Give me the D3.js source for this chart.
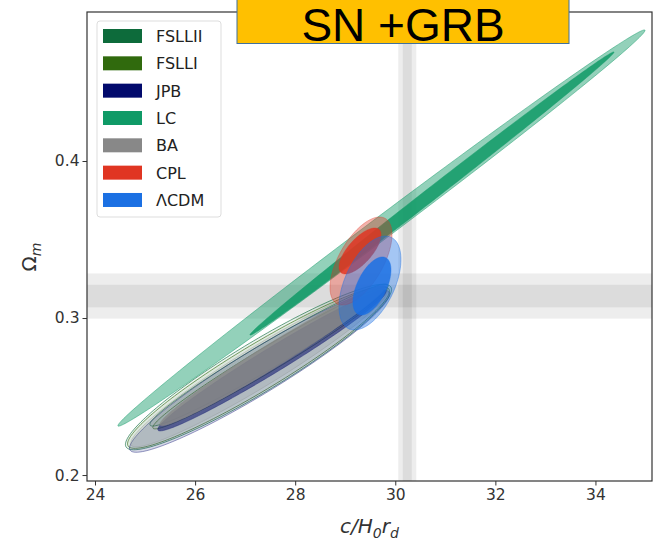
<!DOCTYPE html>
<html><head><meta charset="utf-8">
<script src="https://cdn.jsdelivr.net/npm/d3@7"></script>
<style>body{margin:0;background:#fff;} svg{display:block;}</style>
</head><body>
<svg id="chart" width="656" height="542"></svg>
<script>
// ---- data ----
const models = ["FSLLII", "FSLLI", "JPB", "LC", "BA", "CPL", "ΛCDM"];
// 95% contours: centre, half-extent in x and y, correlation
const cx95 = [27.267, 27.267, 27.287, 29.724, 27.287, 29.315, 29.494];
const cy95 = [0.2688, 0.2685, 0.2662, 0.3573, 0.2691, 0.3363, 0.3223];
const hx95 = [2.659, 2.617, 2.597, 5.267, 2.575, 0.619, 0.619];
const hy95 = [0.0527, 0.0515, 0.0517, 0.1262, 0.0511, 0.0280, 0.0299];
const rho95 = [0.9366, 0.9443, 0.9488, 0.99761, 0.9571, 0.60, 0.50];
// 68% contours
const cx68 = [27.477, 27.497, 27.536, 30.733, 27.546, 29.295, 29.534];
const cy68 = [0.2764, 0.2745, 0.2729, 0.3793, 0.2761, 0.3427, 0.3204];
const hx68 = [2.380, 2.342, 2.282, 3.638, 2.252, 0.420, 0.380];
const hy68 = [0.0452, 0.0451, 0.0448, 0.0902, 0.0447, 0.01465, 0.0185];
const rho68 = [0.9772, 0.9800, 0.9790, 0.99845, 0.9802, 0.70, 0.55];
// reference bands (mean, 1 sigma)
const bandXMean = 30.24, bandXSigma = 0.09;
const bandYMean = 0.314, bandYSigma = 0.0072;
const xTicks = [24, 26, 28, 30, 32, 34];
const yTicks = [0.2, 0.3, 0.4];
const xDomain = [23.84, 35.13];
const yDomain = [0.1962, 0.4949];
const title = "SN +GRB";

// ---- styles ----
const colors = ["#0d6b3b", "#306a0d", "#020a6c", "#0f9a66", "#888888", "#e03522", "#1b70e3"];
const op95 = [0.08, 0.08, 0.16, 0.45, 0.15, 0.38, 0.4];
const op68 = [0.08, 0.08, 0.6, 0.85, 0.85, 0.85, 0.85];
const strokeOp = [0.7, 0.7, 0.45, 0.5, 0.35, 0.4, 0.45];
const m = {left: 87, top: 12, right: 652, bottom: 481};

const svg = d3.select("#chart");
const x = d3.scaleLinear().domain(xDomain).range([m.left, m.right]);
const y = d3.scaleLinear().domain(yDomain).range([m.bottom, m.top]);

svg.append("defs").append("clipPath").attr("id", "clip")
  .append("rect").attr("x", m.left).attr("y", m.top)
  .attr("width", m.right - m.left).attr("height", m.bottom - m.top);

const plot = svg.append("g").attr("clip-path", "url(#clip)");

// bands
[2, 1].forEach(k => {
  plot.append("rect")
    .attr("x", x(bandXMean - k * bandXSigma)).attr("y", m.top)
    .attr("width", x(bandXMean + k * bandXSigma) - x(bandXMean - k * bandXSigma))
    .attr("height", m.bottom - m.top)
    .attr("fill", "#000").attr("fill-opacity", 0.07);
  plot.append("rect")
    .attr("x", m.left).attr("y", y(bandYMean + k * bandYSigma))
    .attr("width", m.right - m.left)
    .attr("height", y(bandYMean - k * bandYSigma) - y(bandYMean + k * bandYSigma))
    .attr("fill", "#000").attr("fill-opacity", 0.07);
});

function ellipse(cx, cy, hx, hy, rho) {
  const s = Math.sqrt(1 - rho * rho);
  return d3.range(0, 180).map(i => {
    const t = i / 180 * 2 * Math.PI;
    return [x(cx + hx * Math.cos(t)), y(cy + hy * (rho * Math.cos(t) + s * Math.sin(t)))];
  });
}
const line = d3.line().curve(d3.curveLinearClosed);

models.forEach((name, i) => {
  const g = plot.append("g");
  g.append("path")
    .attr("d", line(ellipse(cx95[i], cy95[i], hx95[i], hy95[i], rho95[i])))
    .attr("fill", colors[i]).attr("fill-opacity", op95[i])
    .attr("stroke", colors[i]).attr("stroke-opacity", strokeOp[i]).attr("stroke-width", 0.9);
  g.append("path")
    .attr("d", line(ellipse(cx68[i], cy68[i], hx68[i], hy68[i], rho68[i])))
    .attr("fill", colors[i]).attr("fill-opacity", op68[i])
    .attr("stroke", colors[i]).attr("stroke-opacity", strokeOp[i]).attr("stroke-width", 0.9);
});

// axes
const xAxis = d3.axisBottom(x).tickValues(xTicks).tickSize(4.5).tickPadding(3)
  .tickFormat(d3.format("d"));
const yAxis = d3.axisLeft(y).tickValues(yTicks).tickSize(4.5).tickPadding(3)
  .tickFormat(d3.format(".1f"));
const gx = svg.append("g").attr("transform", `translate(0,${m.bottom})`).call(xAxis);
const gy = svg.append("g").attr("transform", `translate(${m.left},0)`).call(yAxis);
[gx, gy].forEach(g => {
  g.select(".domain").remove();
  g.selectAll("line").attr("stroke", "#333").attr("stroke-width", 1);
  g.selectAll("text").attr("font-family", "DejaVu Sans").attr("font-size", 15.5).attr("fill", "#333");
});

svg.append("rect").attr("x", m.left).attr("y", m.top)
  .attr("width", m.right - m.left).attr("height", m.bottom - m.top)
  .attr("fill", "none").attr("stroke", "#333").attr("stroke-width", 1.2);

// axis labels
const xl = svg.append("text").attr("x", (m.left + m.right) / 2).attr("y", 533)
  .attr("text-anchor", "middle").attr("font-family", "DejaVu Sans")
  .attr("font-size", 20).attr("font-style", "italic").attr("fill", "#333");
xl.append("tspan").text("c/H");
xl.append("tspan").attr("font-size", 14).attr("dy", 5).text("0");
xl.append("tspan").attr("dy", -5).text("r");
xl.append("tspan").attr("font-size", 14).attr("dy", 5).text("d");

const yl = svg.append("text").attr("transform", `translate(36,257) rotate(-90)`)
  .attr("text-anchor", "middle").attr("font-family", "DejaVu Sans")
  .attr("font-size", 20).attr("fill", "#333");
yl.append("tspan").text("Ω");
yl.append("tspan").attr("font-size", 14).attr("dy", 5).attr("font-style", "italic").text("m");

// legend
const lg = svg.append("g");
lg.append("rect").attr("x", 97).attr("y", 21).attr("width", 124).attr("height", 196)
  .attr("rx", 3).attr("fill", "#fff").attr("fill-opacity", 0.85)
  .attr("stroke", "#ddd").attr("stroke-width", 1);
models.forEach((name, i) => {
  const cyL = 36 + i * 27.33;
  lg.append("rect").attr("x", 103).attr("y", cyL - 7).attr("width", 39).attr("height", 14)
    .attr("fill", colors[i]);
  lg.append("text").attr("x", 156).attr("y", cyL + 6).attr("font-family", "DejaVu Sans")
    .attr("font-size", 16).attr("fill", "#222").text(name);
});

// title box
svg.append("rect").attr("x", 237).attr("y", -1).attr("width", 332).attr("height", 44.5)
  .attr("fill", "#ffc000").attr("stroke", "#41719c").attr("stroke-width", 1);
svg.append("text").attr("x", 403).attr("y", 41).attr("text-anchor", "middle")
  .attr("font-family", "Liberation Sans, Arial").attr("font-size", 46).attr("fill", "#000")
  .text(title);
</script>
</body></html>
